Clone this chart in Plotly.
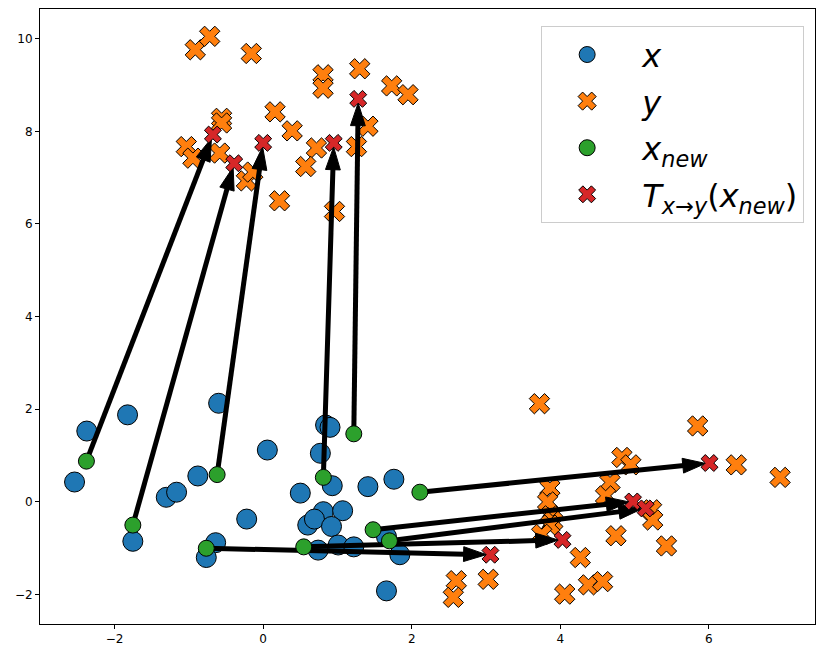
import plotly.graph_objects as go

# Source samples x (blue circles)
xs_x = [-2.375, -1.826, -2.54, -0.60, 0.056, -0.88, -1.305, -1.166, -1.755, -0.222,
        -0.64, -0.766, 0.84, 0.90, 0.77, 0.93, 0.50, 1.41, 1.76, 0.81,
        1.07, 0.60, 0.69, 0.92, 1.01, 1.22, 0.74, 1.66, 1.84, 1.66]
xs_y = [1.53, 1.88, 0.43, 2.13, 1.12, 0.56, 0.10, 0.21, -0.85, -0.37,
        -0.88, -1.20, 1.66, 1.61, 1.05, 0.35, 0.19, 0.33, 0.49, -0.21,
        -0.19, -0.50, -0.37, -0.53, -0.93, -0.97, -1.04, -0.75, -1.14, -1.92]

# Target samples y (orange X)
yt_x = [-0.914, -0.72, -0.16, 0.806, 0.806, 1.30, 1.73, 1.95, 0.16, 0.39,
        -0.56, -0.56, -1.035, -0.946, -0.586, -0.226, -0.14, 0.717, 0.573, 1.41,
        1.256, 0.22, 0.96,
        3.72, 5.85, 6.37, 6.96, 4.83, 4.95, 4.67, 4.61, 3.86, 3.83,
        3.87, 3.90, 3.86, 3.75, 5.23, 5.245, 4.75, 5.43, 4.27, 3.03,
        4.06, 4.38, 4.57, 2.60, 2.56]
yt_y = [9.76, 10.05, 9.68, 9.22, 8.93, 9.35, 8.98, 8.79, 8.42, 8.01,
        8.28, 8.18, 7.67, 7.42, 7.53, 6.93, 7.12, 7.64, 7.24, 8.11,
        7.67, 6.50, 6.27,
        2.12, 1.64, 0.80, 0.53, 0.96, 0.80, 0.42, 0.13, 0.30, 0.00,
        -0.30, -0.42, -0.50, -0.70, -0.17, -0.39, -0.73, -0.95, -1.20, -1.67,
        -1.99, -1.79, -1.72, -1.70, -2.06]

# New source samples (green circles)
xn_x = [-2.38, -1.755, -0.62, 0.81, 1.22, 2.11, 1.48, 1.70, 0.546, -0.766]
xn_y = [0.88, -0.50, 0.59, 0.53, 1.47, 0.21, -0.60, -0.84, -0.97, -1.00]

# Mapped new samples T(x_new) (red X)
tn_x = [-0.677, -0.39, 0.00, 0.95, 1.28, 6.01, 4.98, 5.15, 4.03, 3.06]
tn_y = [7.93, 7.31, 7.75, 7.75, 8.70, 0.84, 0.01, -0.14, -0.82, -1.14]

legend_names = ["\u00a0<i>x</i>",
                "\u00a0<i>y</i>",
                "\u00a0<i>x</i><sub><i>new</i></sub>",
                "\u00a0<i>T</i><sub><i>x</i>\u2192<i>y</i></sub>(<i>x</i><sub><i>new</i></sub>)"]

fig = go.Figure()

fig.add_trace(go.Scatter(
    x=xs_x, y=xs_y, mode="markers", name=legend_names[0], legendgroup="a",
    marker=dict(symbol="circle", size=20, color="#1f77b4",
                line=dict(color="black", width=1))))
fig.add_trace(go.Scatter(
    x=yt_x, y=yt_y, mode="markers", name=legend_names[1], legendgroup="b",
    marker=dict(symbol="x", size=18, color="#ff7f0e",
                line=dict(color="black", width=1))))

for i in range(len(xn_x)):
    fig.add_trace(go.Scatter(
        x=[xn_x[i], tn_x[i]], y=[xn_y[i], tn_y[i]], mode="lines+markers",
        showlegend=False, hoverinfo="skip", legendgroup="arr",
        line=dict(color="black", width=5),
        marker=dict(symbol="arrow", size=[0, 24], angleref="previous",
                    standoff=4, color="#000000", opacity=1,
                    line=dict(color="#000000", width=1))))

fig.add_trace(go.Scatter(
    x=xn_x, y=xn_y, mode="markers", name=legend_names[2], legendgroup="c",
    marker=dict(symbol="circle", size=16, color="#2ca02c",
                line=dict(color="black", width=1))))
fig.add_trace(go.Scatter(
    x=tn_x, y=tn_y, mode="markers", name=legend_names[3], legendgroup="d",
    marker=dict(symbol="x", size=15, color="#d62728",
                line=dict(color="black", width=1))))

axis_common = dict(showgrid=False, zeroline=False, showline=True, mirror=True,
                   linecolor="black", linewidth=1, ticks="outside", ticklen=4,
                   tickcolor="black", tickfont=dict(family="DejaVu Sans", size=12, color="black"))

fig.update_layout(
    width=825, height=659,
    margin=dict(l=40, r=10, t=9, b=35),
    plot_bgcolor="white", paper_bgcolor="white",
    xaxis=dict(range=[-3.005, 7.43], tickmode="array", tickvals=[-2, 0, 2, 4, 6], **axis_common),
    yaxis=dict(range=[-2.635, 10.64], tickmode="array", tickvals=[-2, 0, 2, 4, 6, 8, 10], **axis_common),
    legend=dict(x=0.986, y=0.972, xanchor="right", yanchor="top",
                bgcolor="rgba(255,255,255,0.8)", bordercolor="#cccccc", borderwidth=1,
                font=dict(family="DejaVu Sans", size=32, color="black"),
                itemsizing="trace", itemwidth=80, traceorder="grouped", tracegroupgap=2),
    showlegend=True,
)

fig.write_html("out.html")
